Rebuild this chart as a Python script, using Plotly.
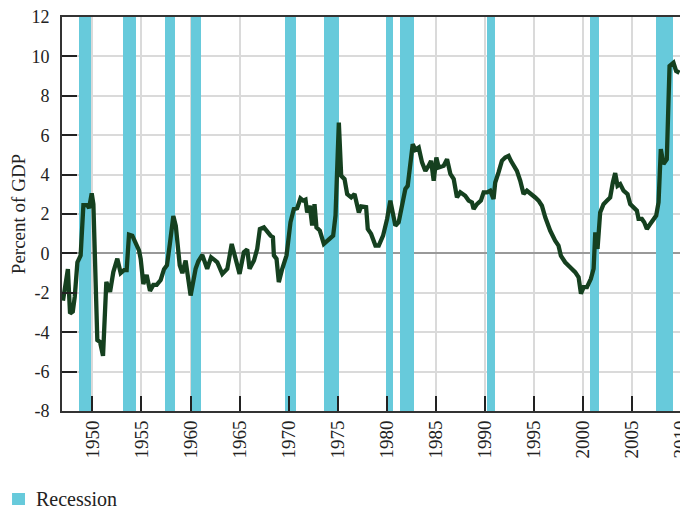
import plotly.graph_objects as go

# quarterly-ish readings of the series (year, percent of GDP)
years = [1947.0, 1947.15, 1947.5, 1947.72, 1948.0, 1948.2, 1948.47, 1948.8, 1949.08, 1949.49,
         1949.66, 1949.93, 1950.1, 1950.5, 1950.78, 1951.08, 1951.42, 1951.8, 1952.13, 1952.54,
         1952.88, 1953.22, 1953.49, 1953.73, 1954.07, 1954.75, 1954.92, 1955.19, 1955.53, 1955.87,
         1956.21, 1956.55, 1956.96, 1957.3, 1957.6, 1957.9, 1958.25, 1958.5, 1958.7, 1958.9,
         1959.17, 1959.5, 1960.01, 1960.52, 1960.8, 1961.2, 1961.7, 1962.1, 1962.5, 1962.73,
         1963.24, 1963.75, 1964.2, 1964.6, 1965.0, 1965.44, 1965.78, 1966.02, 1966.47, 1966.8,
         1967.07, 1967.48, 1967.82, 1968.16, 1968.4, 1968.5, 1968.77, 1969.0, 1969.35, 1969.79,
         1970.19, 1970.53, 1970.87, 1971.21, 1971.49, 1971.72, 1971.89, 1972.16, 1972.4, 1972.64,
         1972.84, 1973.18, 1973.59, 1973.93, 1974.27, 1974.54, 1974.78, 1974.95, 1975.12, 1975.36,
         1975.7, 1975.97, 1976.38, 1976.72, 1977.16, 1977.4, 1977.9, 1978.07, 1978.41, 1978.85,
         1979.19, 1979.63, 1980.04, 1980.37, 1980.65, 1980.88, 1981.22, 1981.56, 1981.9, 1982.14,
         1982.41, 1982.65, 1982.92, 1983.26, 1983.6, 1983.94, 1984.28, 1984.52, 1984.79, 1985.06,
         1985.3, 1985.81, 1986.15, 1986.49, 1986.83, 1987.16, 1987.5, 1988.0, 1988.35, 1988.69,
         1988.86, 1989.2, 1989.6, 1989.88, 1990.22, 1990.55, 1990.89, 1991.06, 1991.4, 1991.74,
         1992.08, 1992.42, 1992.66, 1992.93, 1993.27, 1993.61, 1993.95, 1994.29, 1994.8, 1995.14,
         1995.48, 1995.82, 1996.16, 1996.66, 1997.17, 1997.51, 1997.75, 1998.19, 1998.7, 1999.21,
         1999.56, 1999.8, 2000.07, 2000.41, 2000.81, 2001.09, 2001.26, 2001.49, 2001.76, 2002.1,
         2002.44, 2002.78, 2003.05, 2003.29, 2003.53, 2003.8, 2004.14, 2004.55, 2004.82, 2005.16,
         2005.5, 2005.67, 2006.01, 2006.25, 2006.52, 2006.86, 2007.2, 2007.47, 2007.71, 2007.94,
         2008.21, 2008.55, 2008.83, 2009.23, 2009.5, 2009.84]
values = [-2.4, -2.0, -0.8, -3.05, -2.95, -2.2, -0.45, -0.1, 2.45, 2.45,
          2.3, 3.05, 2.5, -4.4, -4.5, -5.2, -1.45, -1.95, -0.95, -0.27,
          -1.0, -0.85, -0.85, 0.95, 0.9, 0.15, -0.27, -1.55, -1.1, -1.9,
          -1.6, -1.6, -1.35, -0.8, -0.6, 0.5, 1.9, 1.4, 0.5, -0.6,
          -1.0, -0.36, -2.14, -0.78, -0.4, -0.08, -0.78, -0.2, -0.35, -0.45,
          -1.04, -0.78, 0.48, -0.3, -1.04, 0.06, 0.2, -0.78, -0.36, 0.23,
          1.24, 1.32, 1.07, 0.9, 0.82, -0.1, -0.28, -1.46, -0.78, -0.1,
          1.58, 2.25, 2.29, 2.79, 2.68, 2.73, 2.08, 2.42, 1.41, 2.5,
          1.32, 1.16, 0.48, 0.65, 0.82, 0.9, 1.92, 3.94, 6.64, 3.94,
          3.77, 3.01, 2.84, 3.01, 2.08, 2.39, 2.35, 1.24, 0.99, 0.4,
          0.4, 0.9, 1.75, 2.68, 1.92, 1.41, 1.58, 2.59, 3.27, 3.43,
          4.78, 5.54, 5.26, 5.37, 4.62, 4.19, 4.45, 4.7, 3.69, 4.87,
          4.36, 4.45, 4.78, 4.03, 3.77, 2.84, 3.1, 2.93, 2.68, 2.59,
          2.25, 2.5, 2.68, 3.1, 3.1, 3.18, 2.76, 3.6, 4.11, 4.7,
          4.87, 4.95, 4.7, 4.45, 4.19, 3.69, 3.01, 3.18, 3.01, 2.84,
          2.68, 2.42, 1.83, 1.16, 0.65, 0.4, -0.11, -0.45, -0.7, -0.95,
          -1.21, -2.05, -1.71, -1.71, -1.29, -0.78, 1.07, 0.23, 2.08, 2.5,
          2.67, 2.84, 3.6, 4.08, 3.43, 3.52, 3.18, 3.01, 2.5, 2.34,
          2.17, 1.75, 1.75, 1.58, 1.24, 1.49, 1.75, 1.92, 2.59, 5.29,
          4.53, 4.78, 9.51, 9.68, 9.26, 9.17]

# recession periods (start, end)
rec_start = [1948.6, 1953.1, 1957.4, 1960.0, 1969.6, 1973.6, 1979.9, 1981.4, 1990.2, 2000.7, 2007.4]
rec_end = [1949.9, 1954.4, 1958.4, 1961.1, 1970.8, 1975.1, 1980.6, 1982.8, 1991.0, 2001.6, 2009.2]

x_ticks = list(range(1950, 2011, 5))
y_ticks = list(range(-8, 13, 2))
y_labels = [str(v) for v in y_ticks]

Y_MIN, Y_MAX = -8, 12
REC_COLOR = "#67cadb"
LINE_COLOR = "#15401f"
FONT = "Liberation Serif"

fig = go.Figure()

# recession bars span the full value range
mids = [(s + e) / 2 for s, e in zip(rec_start, rec_end)]
widths = [e - s for s, e in zip(rec_start, rec_end)]
fig.add_trace(go.Bar(x=mids, y=[Y_MAX - Y_MIN] * len(mids), base=Y_MIN, width=widths,
                     marker=dict(color=REC_COLOR, line_width=0), name="Recession",
                     hoverinfo="skip", showlegend=False))

fig.add_trace(go.Scatter(x=years, y=values, mode="lines",
                         line=dict(color=LINE_COLOR, width=4.3),
                         showlegend=False, hoverinfo="x+y"))

# key below the chart, hugging the left edge (plotly's own legend can't go that far left)
fig.add_shape(type="rect", xref="paper", yref="paper",
              x0=-0.0806, x1=-0.0597, y0=-0.2386, y1=-0.2081,
              fillcolor=REC_COLOR, line_width=0)
fig.add_annotation(text="Recession", xref="paper", yref="paper",
                   x=-0.0445, y=-0.2234, xanchor="left", yanchor="middle",
                   showarrow=False, font=dict(size=20, family=FONT, color="#222"))

# page body keeps its default 8px margin, so the figure is sized to fit inside it
fig.update_layout(
    width=680, height=502,
    margin=dict(l=54, r=6, t=9, b=99),
    paper_bgcolor="white", plot_bgcolor="white",
    font=dict(family=FONT, size=17, color="#222"),
    showlegend=False,
    bargap=0,
)

fig.update_xaxes(range=[1946.9, 2010.1], tickvals=x_ticks, tickangle=-90,
                 ticks="inside", ticklen=15, tickwidth=2, tickcolor="#222",
                 showgrid=True, gridcolor="#dadada", gridwidth=2,
                 showline=True, linecolor="#333", linewidth=2, mirror=True,
                 zeroline=False, tickfont=dict(size=19),
                 ticklabeloverflow="allow", automargin=False)
fig.update_yaxes(range=[Y_MIN, Y_MAX], tickvals=y_ticks, ticktext=y_labels,
                 ticks="inside", ticklen=15, tickwidth=2, tickcolor="#222",
                 showgrid=True, gridcolor="#dadada", gridwidth=2,
                 zeroline=True, zerolinecolor="#999", zerolinewidth=2,
                 showline=True, linecolor="#333", linewidth=2, mirror=True,
                 title=dict(text="Percent of GDP", font=dict(size=19), standoff=1),
                 tickfont=dict(size=18), ticklabelstandoff=7,
                 ticklabeloverflow="allow", automargin=False)

fig.write_html("out.html")
